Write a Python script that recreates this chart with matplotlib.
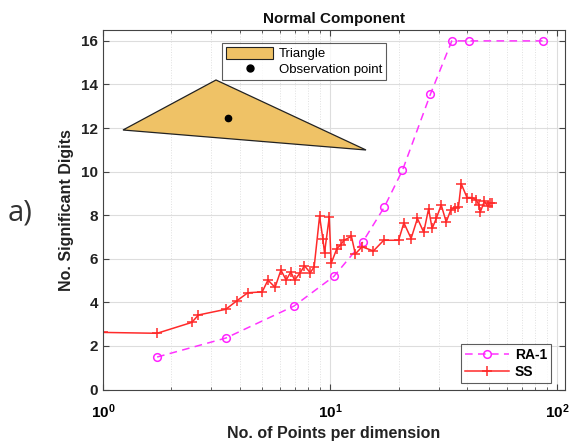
import numpy as np
import matplotlib.pyplot as plt
from matplotlib.patches import Polygon, Patch
from matplotlib.lines import Line2D

plt.rcParams['font.family'] = ['Liberation Sans', 'DejaVu Sans']
plt.rcParams['mathtext.fontset'] = 'custom'
plt.rcParams['mathtext.bf'] = 'Liberation Sans:bold'
plt.rcParams['mathtext.rm'] = 'Liberation Sans'

# RA-1 series
ra_x = [1.73, 3.47, 6.93, 10.4, 13.9, 17.3, 20.8, 27.6, 34.3, 40.9, 86.0]
ra_y = [1.49, 2.36, 3.83, 5.20, 6.77, 8.37, 10.06, 13.55, 16.0, 16.0, 16.0]

# SS series
ss_x = [1.0, 1.73, 2.46, 2.63, 3.47, 3.88, 4.34, 5.02, 5.32, 5.72, 6.07, 6.40,
        6.71, 6.97, 7.38, 7.70, 8.17, 8.50, 8.98, 9.29, 9.44, 9.90, 10.1, 10.7,
        11.1, 11.5, 12.4, 12.9, 13.8, 15.5, 17.2, 20.0, 21.1, 22.7, 24.2, 25.8,
        27.1, 28.1, 29.3, 30.8, 32.4, 34.0, 35.5, 36.7, 37.7, 40.0, 42.1, 44.0,
        45.0, 45.8, 47.7, 49.3, 50.3, 51.6]
ss_y = [2.62, 2.58, 3.08, 3.42, 3.68, 4.07, 4.44, 4.48, 5.02, 4.69, 5.48, 5.02,
        5.40, 5.02, 5.36, 5.68, 5.36, 5.63, 7.95, 6.89, 6.27, 7.90, 5.79, 6.47,
        6.63, 6.85, 7.03, 6.22, 6.55, 6.36, 6.85, 6.85, 7.65, 6.93, 7.85, 7.22,
        8.29, 7.39, 7.85, 8.47, 7.69, 8.26, 8.34, 8.38, 9.45, 8.81, 8.81, 8.69,
        8.49, 8.15, 8.64, 8.41, 8.54, 8.57]

yticks = [0, 2, 4, 6, 8, 10, 12, 14, 16]
xticks = [1, 10, 100]
xticklabels = [r'$\mathbf{10^{0}}$', r'$\mathbf{10^{1}}$', r'$\mathbf{10^{2}}$']

# inset sketch (figure pixel frame)
tri_x = [123, 216, 366]
tri_y = [130, 80, 150]
obs_x = [228]
obs_y = [118]

fig = plt.figure(figsize=(5.71, 4.46), dpi=100)
ax = fig.add_axes([103 / 571, 1 - 389.5 / 446, 462 / 571, 359.5 / 446])

ax.plot(ra_x, ra_y, color='#ff33ff', ls=(0, (5, 3.5)), lw=1.1, marker='o',
        ms=5.5, mfc='none', mec='#ff22ff', mew=1.1, label='RA-1')
ax.plot(ss_x, ss_y, color='#ff2a2a', ls='-', lw=1.1, marker='+', ms=7,
        mew=1.1, label='SS')

ax.set_xscale('log')
ax.set_xlim(1, 108)
ax.set_ylim(0, 16.5)
ax.set_yticks(yticks)
ax.set_xticks(xticks)
ax.set_xticklabels(xticklabels)
ax.tick_params(which='both', direction='in', top=True, right=True,
               labelsize=11, color='#444444')
ax.tick_params(which='major', length=4)
ax.tick_params(which='minor', length=2.5)
ax.tick_params(axis='x', pad=9)
for lab in ax.get_yticklabels():
    lab.set_fontweight('bold')
    lab.set_color('#222222')
ax.grid(True, which='major', color='#dddddd', lw=0.8, ls='-')
ax.grid(True, which='minor', axis='x', color='#e0e0e0', lw=0.7, ls=':')
ax.set_axisbelow(True)
for s in ax.spines.values():
    s.set_color('#444444')
    s.set_linewidth(0.8)

ax.set_title('Normal Component', fontsize=11, fontweight='bold', pad=5,
             color='#111111')
ax.set_xlabel('No. of Points per dimension', fontsize=11.5, fontweight='bold',
              color='#222222', labelpad=4)
ax.set_ylabel('No. Significant Digits', fontsize=11.5, fontweight='bold',
              color='#222222', labelpad=5)

leg = ax.legend(loc='lower right', bbox_to_anchor=(0.97, 0.018),
                prop={'weight': 'bold', 'size': 10}, handlelength=3.2,
                frameon=True, fancybox=False, borderpad=0.3, labelspacing=0.2,
                handletextpad=0.4, borderaxespad=0)
leg.get_frame().set_edgecolor('#333333')
leg.get_frame().set_linewidth(0.8)

# inset with the triangle
ai = fig.add_axes([0, 0, 1, 1])
ai.set_xlim(0, 571)
ai.set_ylim(446, 0)
ai.axis('off')
ai.patch.set_alpha(0)
ai.add_patch(Polygon(np.column_stack([tri_x, tri_y]), closed=True,
                     facecolor='#efc266', edgecolor='#222222', lw=0.9))
ai.plot(obs_x, obs_y, 'o', color='black', ms=4.5)

h1 = Patch(facecolor='#efc266', edgecolor='#222222', lw=0.8)
h2 = Line2D([], [], ls='none', marker='o', color='black', ms=5)
leg2 = ai.legend([h1, h2], ['Triangle', 'Observation point'],
                 loc='upper left', bbox_to_anchor=(222 / 571, 1 - 43 / 446),
                 fontsize=9.5, handlelength=3.6, handleheight=1.0,
                 frameon=True, fancybox=False, borderpad=0.3,
                 labelspacing=0.2, handletextpad=0.4, borderaxespad=0)
leg2.get_frame().set_edgecolor('#333333')
leg2.get_frame().set_linewidth(0.8)

fig.text(8 / 571, 1 - 213 / 446, 'a)', fontsize=21, family='Open Sans',
         color='#333333', va='center', ha='left')

fig.savefig('out.png', dpi=100)
